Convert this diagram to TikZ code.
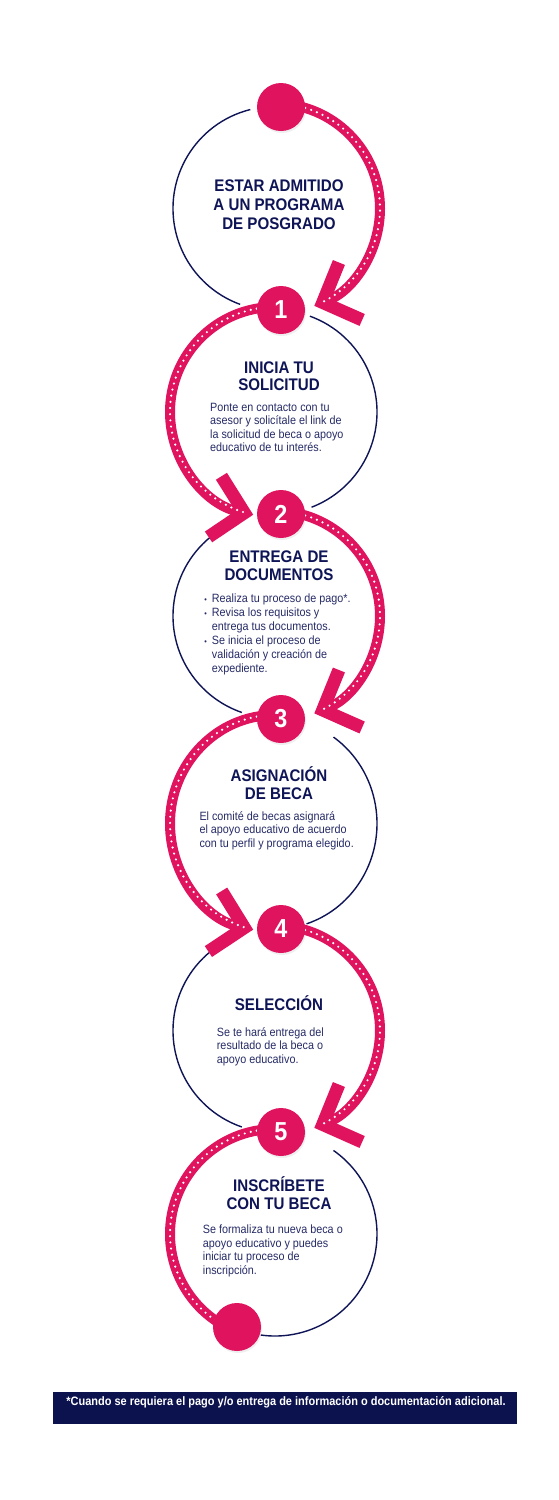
\documentclass[tikz,border=0pt]{standalone}
\usepackage{fontspec}
\setmainfont{Liberation Sans}[FakeStretch=0.9]
\usetikzlibrary{arrows.meta,shadows}
\definecolor{navy}{HTML}{0E1456}
\definecolor{rosa}{HTML}{E0135E}
\definecolor{texto}{HTML}{262B66}
\tikzset{
  ruta/.style={draw=navy, line width=1.4pt},
  cinta/.style={draw=rosa, line width=10pt},
  flecha/.style={cinta, -{Straight Barb[length=30pt,width=62pt,line width=13pt]}},
  puntos/.style={draw=white, line width=2.4pt, line cap=round, dash pattern=on 0pt off 6.2pt},
  marca/.style={circle, fill=rosa, minimum size=48pt, inner sep=0pt, text=white,
    font=\fontsize{26}{26}\selectfont\bfseries,
    drop shadow={opacity=.12, shadow xshift=1pt, shadow yshift=-2pt}},
  titulo/.style={align=center, text=navy, anchor=base, inner sep=0pt,
    font=\fontsize{16.8}{17.5}\selectfont\bfseries},
  cuerpo/.style={align=left, text=texto, anchor=base west, inner sep=0pt,
    font=\fontsize{12}{13.4}\selectfont},
}
\newcommand{\vineta}{\llap{{\fontsize{8}{8}\selectfont\textbullet}\hspace{5pt}}}
\begin{document}
\begin{tikzpicture}[x=1pt,y=1pt]
\useasboundingbox[fill=white] (0,0) rectangle (558,-1500);
\coordinate (c1) at (275,-208.5);
\coordinate (c2) at (275,-412);
\coordinate (c3) at (275,-616);
\coordinate (c4) at (275,-823.5);
\coordinate (c5) at (275,-1030.5);
\coordinate (c6) at (275,-1234);
% trazos azules
\draw[ruta] (c1) ++(104:102) arc[start angle=104, end angle=250, radius=102];
\draw[ruta] (c2) ++(70:102) arc[start angle=70, end angle=-69, radius=102];
\draw[ruta] (c3) ++(126:102) arc[start angle=126, end angle=251, radius=102];
\draw[ruta] (c4) ++(55:102 and 105.5) arc[start angle=55, end angle=-72, x radius=102, y radius=105.5];
\draw[ruta] (c5) ++(126:102) arc[start angle=126, end angle=251, radius=102];
\draw[ruta] (c6) ++(55:102) arc[start angle=55, end angle=-98, radius=102];
% flechas rosas
\draw[flecha] (c1) ++(90:105) arc[start angle=90, end angle=-68, radius=105];
\draw[flecha] (c2) ++(90:105) arc[start angle=90, end angle=258, radius=105];
\draw[flecha] (c3) ++(90:105) arc[start angle=90, end angle=-68, radius=105];
\draw[flecha] (c4) ++(90:105 and 108.5) arc[start angle=90, end angle=258, x radius=105, y radius=108.5];
\draw[flecha] (c5) ++(90:105) arc[start angle=90, end angle=-68, radius=105];
\draw[cinta] (c6) ++(90:105) arc[start angle=90, end angle=247, radius=105];
\draw[puntos] (c1) ++(80:105) arc[start angle=80, end angle=-63, radius=105];
\draw[puntos] (c2) ++(100:105) arc[start angle=100, end angle=253, radius=105];
\draw[puntos] (c3) ++(80:105) arc[start angle=80, end angle=-63, radius=105];
\draw[puntos] (c4) ++(100:105 and 108.5) arc[start angle=100, end angle=253, x radius=105, y radius=108.5];
\draw[puntos] (c5) ++(80:105) arc[start angle=80, end angle=-63, radius=105];
\draw[puntos] (c6) ++(100:105) arc[start angle=100, end angle=240, radius=105];
% marcas
\node[marca] (m0) at (281,-107) {};
\node[marca] (m1) at (281,-310) {1};
\node[marca] (m2) at (281,-514) {2};
\node[marca] (m3) at (281,-719) {3};
\node[marca] (m4) at (281,-929) {4};
\node[marca] (m5) at (281,-1132) {5};
\node[marca] (m6) at (237,-1327) {};
% textos
\node[titulo, font=\fontsize{16.8}{19}\selectfont\bfseries] (t1) at (279,-229) {ESTAR ADMITIDO\\A UN PROGRAMA\\DE POSGRADO};
\node[titulo] (t2) at (279,-390.7) {INICIA TU\\SOLICITUD};
\node[cuerpo] (b2) at (210,-451.7) {Ponte en contacto con tu\\asesor y solicítale el link de\\la solicitud de beca o apoyo\\educativo de tu interés.};
\node[titulo] (t3) at (279,-580) {ENTREGA DE\\DOCUMENTOS};
\node[cuerpo, font=\fontsize{12}{14}\selectfont] (b3) at (211.7,-672.3) {\vineta Realiza tu proceso de pago*.\\\vineta Revisa los requisitos y\\entrega tus documentos.\\\vineta Se inicia el proceso de\\validación y creación de\\expediente.};
\node[titulo] (t4) at (279,-799.3) {ASIGNACIÓN\\DE BECA};
\node[cuerpo] (b4) at (199.3,-847.3) {El comité de becas asignará\\el apoyo educativo de acuerdo\\con tu perfil y programa elegido.};
\node[titulo] (t5) at (279,-1010.7) {SELECCIÓN};
\node[cuerpo] (b5) at (216.7,-1063.3) {Se te hará entrega del\\resultado de la beca o\\apoyo educativo.};
\node[titulo] (t6) at (279,-1209.3) {INSCRÍBETE\\CON TU BECA};
\node[cuerpo] (b6) at (202.7,-1274) {Se formaliza tu nueva beca o\\apoyo educativo y puedes\\iniciar tu proceso de\\inscripción.};
% nota
\fill[navy!90!black] (53,-1392) rectangle (517,-1424);
\node[text=white, anchor=base, inner sep=0pt, font=\fontsize{12.2}{13}\selectfont\bfseries] (nota) at (286,-1405) {*Cuando se requiera el pago y/o entrega de información o documentación adicional.};
\end{tikzpicture}
\end{document}
